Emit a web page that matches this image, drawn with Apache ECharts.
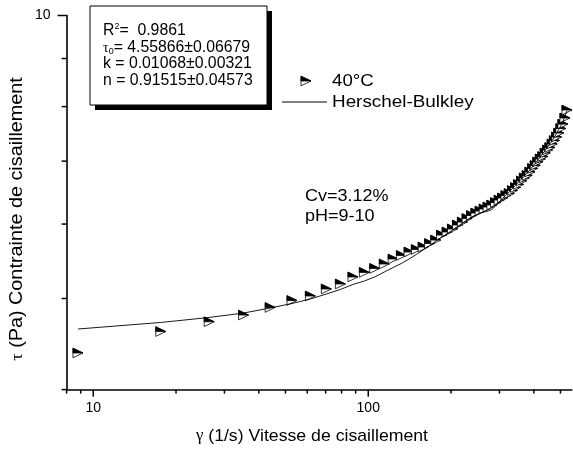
<!DOCTYPE html>
<html>
<head>
<meta charset="utf-8">
<script src="https://cdn.jsdelivr.net/npm/echarts/dist/echarts.min.js"></script>
<style>
  html, body { margin: 0; padding: 0; background: #fff; }
  #chart { width: 573px; height: 450px; }
</style>
</head>
<body>
<div id="chart"></div>
<script>
// Shear rate (1/s) for every measured point
const shearRate = [8.8, 17.6, 26.4, 35.2, 44, 52.8, 61.6, 70.4, 79.2, 88,
  96.8, 105.6, 114.4, 123.2, 132, 140.8, 149.6, 158.4, 167.2, 176,
  184.8, 193.6, 202.4, 211.2, 220, 228.8, 237.6, 246.4, 255.2, 264,
  272.8, 281.6, 290.4, 299.2, 308, 316.8, 325.6, 334.4, 343.2, 352,
  360.8, 369.6, 378.4, 387.2, 396, 404.8, 413.6, 422.4, 431.2, 440,
  448.8, 457.6, 466.4, 475.2, 484, 492.8, 501.6, 510.4, 519.2, 528];

// Measured shear stress (Pa) at 40 °C
const stress40C = [4.375, 4.611, 4.723, 4.801, 4.891, 4.976, 5.031, 5.118, 5.181, 5.271,
  5.330, 5.382, 5.441, 5.508, 5.556, 5.603, 5.638, 5.672, 5.721, 5.769,
  5.840, 5.885, 5.928, 5.986, 6.030, 6.082, 6.127, 6.165, 6.195, 6.226,
  6.256, 6.287, 6.325, 6.364, 6.396, 6.435, 6.466, 6.514, 6.562, 6.611,
  6.668, 6.717, 6.758, 6.816, 6.875, 6.926, 6.986, 7.037, 7.079, 7.140,
  7.193, 7.237, 7.300, 7.362, 7.426, 7.499, 7.582, 7.664, 7.780, 7.933];

// Herschel-Bulkley fitted stress (Pa) at the same shear rates
const stressHB = [4.640, 4.715, 4.773, 4.825, 4.885, 4.939, 4.994, 5.055, 5.112, 5.175,
  5.219, 5.271, 5.335, 5.394, 5.448, 5.508, 5.569, 5.631, 5.693, 5.755,
  5.812, 5.861, 5.912, 5.963, 6.015, 6.060, 6.105, 6.135, 6.165, 6.180,
  6.195, 6.218, 6.272, 6.333, 6.388, 6.443, 6.491, 6.547, 6.594, 6.652,
  6.701, 6.750, 6.799, 6.850, 6.909, 6.960, 7.020, 7.072, 7.133, 7.185,
  7.247, 7.301, 7.363, 7.426, 7.490, 7.564, 7.638, 7.713, 7.818, 7.914];

// Axis ranges and tick positions
const xRange = [8, 550];
const yRange = [4, 10];
const xMajorTicks = [10, 100];
const xMinorTicks = [8, 9, 20, 30, 40, 50, 60, 70, 80, 90, 200, 300, 400, 500];
const yMajorTicks = [10];
const yMinorTicks = [4, 5, 6, 7, 8, 9];
const xTickLabels = ['10', '100'];
const yTickLabels = ['10'];

// Fit report shown in the boxed inset
const fitReport = ['0.9861', '4.55866±0.06679', '0.01068±0.00321', '0.91515±0.04573'];
const sampleNotes = ['Cv=3.12%', 'pH=9-10'];

const FONT = "'Liberation Sans', Arial, sans-serif";
const GREEK = "'Liberation Serif', 'DejaVu Serif', serif";

const chart = echarts.init(document.getElementById('chart'), null, { renderer: 'canvas' });

// half-filled right-pointing triangle
function triangleShape(cx, cy) {
  const w = 5, h = 4.8;
  return [
    { type: 'polygon', shape: { points: [[cx - w, cy - h], [cx + w, cy], [cx - w, cy + h]] },
      style: { fill: '#fff', stroke: '#000', lineWidth: 0.8 } },
    { type: 'polygon', shape: { points: [[cx - w, cy - h], [cx + w, cy], [cx - w, cy]] },
      style: { fill: '#000', stroke: '#000', lineWidth: 0.8 } }
  ];
}

function renderMarker(params, api) {
  const p = api.coord([api.value(0), api.value(1)]);
  return { type: 'group', children: triangleShape(p[0], p[1]) };
}

function xTicks(len) {
  return function (params, api) {
    const p = api.coord([api.value(0), yRange[0]]);
    return { type: 'line', shape: { x1: p[0], y1: p[1], x2: p[0], y2: p[1] + len },
      style: { stroke: '#000', lineWidth: 1.5 } };
  };
}
function yTicks(len) {
  return function (params, api) {
    const p = api.coord([xRange[0], api.value(1)]);
    return { type: 'line', shape: { x1: p[0], y1: p[1], x2: p[0] - len, y2: p[1] },
      style: { stroke: '#000', lineWidth: 1.5 } };
  };
}

function isLabelled(v, labels) {
  return labels.some(function (s) { return Math.abs(Number(s) - v) < 1e-6 * Number(s); });
}

function plainText(x, y, text, size, sx) {
  return { type: 'text', x: x, y: y, scaleX: sx || 1, z: 12, style: {
    text: text, fontSize: size, fontFamily: FONT, fill: '#000', verticalAlign: 'middle' } };
}

const option = {
  backgroundColor: '#fff',
  animation: false,
  grid: { left: 66.6, right: 1.15, top: 15.5, bottom: 60.4, containLabel: false },
  xAxis: {
    type: 'log', logBase: 10, min: xRange[0], max: xRange[1],
    axisLine: { show: true, lineStyle: { color: '#000', width: 1.6 } },
    axisTick: { show: false },
    splitLine: { show: false },
    minorTick: { show: false },
    axisLabel: {
      show: true, color: '#000', fontSize: 14, fontFamily: FONT, margin: 12,
      showMinLabel: false, showMaxLabel: false,
      formatter: function (v) { return isLabelled(v, xTickLabels) ? String(Math.round(v)) : ''; }
    }
  },
  yAxis: {
    type: 'log', logBase: 10, min: yRange[0], max: yRange[1],
    axisLine: { show: true, lineStyle: { color: '#000', width: 1.6 } },
    axisTick: { show: false },
    splitLine: { show: false },
    minorTick: { show: false },
    axisLabel: {
      show: true, color: '#000', fontSize: 14, fontFamily: FONT, margin: 16,
      showMinLabel: false, showMaxLabel: true,
      formatter: function (v) { return isLabelled(v, yTickLabels) ? String(Math.round(v)) : ''; }
    }
  },
  series: [
    {
      name: '40°C', type: 'custom', renderItem: renderMarker, clip: false,
      data: shearRate.map(function (x, i) { return [x, stress40C[i]]; }), z: 3
    },
    {
      name: 'Herschel-Bulkley', type: 'line', showSymbol: false, symbol: 'none',
      lineStyle: { color: '#000', width: 0.9 },
      data: shearRate.map(function (x, i) { return [x, stressHB[i]]; }), z: 4
    },
    { type: 'custom', renderItem: xTicks(7), clip: false, silent: true,
      data: xMajorTicks.map(function (v) { return [v, yRange[0]]; }) },
    { type: 'custom', renderItem: xTicks(4), clip: false, silent: true,
      data: xMinorTicks.map(function (v) { return [v, yRange[0]]; }) },
    { type: 'custom', renderItem: yTicks(9), clip: false, silent: true,
      data: yMajorTicks.map(function (v) { return [xRange[0], v]; }) },
    { type: 'custom', renderItem: yTicks(5), clip: false, silent: true,
      data: yMinorTicks.map(function (v) { return [xRange[0], v]; }) }
  ],
  graphic: [
    // inset box with drop shadow
    { type: 'rect', shape: { x: 95, y: 11, width: 177, height: 99 }, style: { fill: '#000' }, z: 10 },
    { type: 'rect', shape: { x: 90, y: 6, width: 177, height: 99 },
      style: { fill: '#fff', stroke: '#000', lineWidth: 1 }, z: 11 },
    { type: 'text', x: 103, y: 31, z: 12, style: {
        text: 'R{sup|2}=  ' + fitReport[0], fontSize: 15.8, fontFamily: FONT, fill: '#000', verticalAlign: 'middle',
        rich: { sup: { fontSize: 9, fontFamily: FONT, verticalAlign: 'top', padding: [0, 0, 8, 0] } } } },
    { type: 'text', x: 103, y: 48, z: 12, style: {
        text: '{g|τ}{sub|0}= ' + fitReport[1], fontSize: 15.8, fontFamily: FONT, fill: '#000', verticalAlign: 'middle',
        rich: { g: { fontSize: 14, fontFamily: GREEK }, sub: { fontSize: 9, fontFamily: FONT, verticalAlign: 'bottom', padding: [6, 0, 0, 0] } } } },
    plainText(103, 64, 'k = ' + fitReport[2], 15.8),
    plainText(103, 81, 'n = ' + fitReport[3], 15.8),
    // legend
    { type: 'group', z: 12, children: triangleShape(306, 81) },
    plainText(332, 81, '40°C', 17, 1.1),
    { type: 'line', z: 12, shape: { x1: 282, y1: 102, x2: 327, y2: 102 }, style: { stroke: '#000', lineWidth: 1 } },
    plainText(332, 102, 'Herschel-Bulkley', 17, 1.11),
    // sample conditions
    plainText(305, 196, sampleNotes[0], 17, 1.06),
    plainText(305, 216, sampleNotes[1], 17, 1.06),
    // axis titles
    { type: 'text', x: 312, y: 436, scaleX: 1.04, z: 12, style: {
        text: '{g|γ} (1/s) Vitesse de cisaillement', fontSize: 17, fontFamily: FONT, fill: '#000',
        align: 'center', verticalAlign: 'middle', rich: { g: { fontSize: 16, fontFamily: GREEK } } } },
    { type: 'text', x: 17.5, y: 219, rotation: Math.PI / 2, scaleX: 1.1, z: 12, style: {
        text: '{g|τ} (Pa) Contrainte de cisaillement', fontSize: 18, fontFamily: FONT, fill: '#000',
        align: 'center', verticalAlign: 'middle', rich: { g: { fontSize: 17, fontFamily: GREEK } } } }
  ]
};

chart.setOption(option);
</script>
</body>
</html>
